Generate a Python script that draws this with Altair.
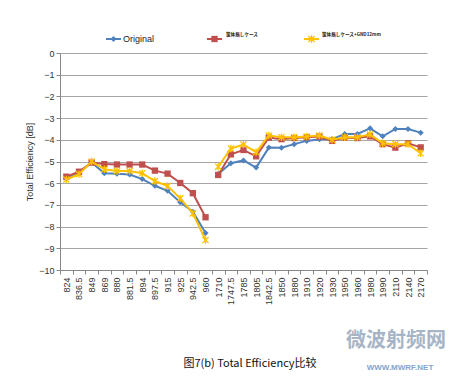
import altair as alt
import pandas as pd

categories = ["824", "836.5", "849", "869", "880", "881.5", "894", "897.5", "915", "925",
              "942.5", "960", "1710", "1747.5", "1785", "1805", "1842.5", "1850", "1880",
              "1910", "1920", "1930", "1950", "1960", "1980", "1990", "2110", "2140", "2170"]

series_names = ["Original", "筐体無しケース", "筐体無しケース+GND12mm"]

original = [-5.75, -5.5, -5.05, -5.54, -5.56, -5.6, -5.81, -6.12, -6.35, -6.88, -7.31, -8.3,
            -5.58, -5.08, -4.95, -5.28, -4.36, -4.37, -4.2, -4.05, -3.97, -3.97, -3.73, -3.73,
            -3.47, -3.84, -3.5, -3.5, -3.67]
case_a = [-5.7, -5.47, -5.05, -5.12, -5.14, -5.14, -5.14, -5.42, -5.56, -5.99, -6.46, -7.57,
          -5.62, -4.67, -4.47, -4.76, -3.9, -3.97, -3.92, -3.88, -3.85, -4.05, -3.9, -3.92,
          -3.84, -4.2, -4.36, -4.16, -4.35]
case_b = [-5.83, -5.58, -5.0, -5.36, -5.44, -5.44, -5.54, -5.9, -6.13, -6.7, -7.39, -8.62,
          -5.24, -4.4, -4.22, -4.57, -3.8, -3.88, -3.88, -3.85, -3.8, -4.0, -3.88, -3.88,
          -3.75, -4.16, -4.2, -4.2, -4.62]

# band (GSM 800/900 vs 1700-2100) – lines are drawn separately for each band
band_split = 12

colors = ["#4F81BD", "#C0504D", "#FFC000"]
shapes = ["diamond", "square", "M-1,-1L1,1M-1,1L1,-1M0,-1.2L0,1.2"]
filled = [True, True, False]
sizes = [36, 40, 38]

rows = []
for name, vals in zip(series_names, [original, case_a, case_b]):
    for i, (c, v) in enumerate(zip(categories, vals)):
        rows.append({"freq": c, "eff": v, "series": name,
                     "seg": "low" if i < band_split else "high", "order": i})
df = pd.DataFrame(rows)

W, H = 367, 217
FONT = "Liberation Sans"

xenc = alt.X("freq:N", sort=categories, bandPosition=0.5,
             scale=alt.Scale(type="band", paddingInner=0, paddingOuter=0),
             axis=alt.Axis(title=None, labelAngle=270, labelFontSize=9, labelColor="#333333",
                           labelFont=FONT, domainColor="#888888", tickColor="#888888",
                           tickSize=4, tickBand="extent", labelPadding=3, grid=False))
yenc = alt.Y("eff:Q", scale=alt.Scale(domain=[-10, 0], nice=False),
             axis=alt.Axis(title="Total Efficiency [dB]", values=list(range(-10, 1)),
                           format="d", labelFontSize=9, labelColor="#333333", labelFont=FONT,
                           titleFont=FONT, titleFontSize=9, titleFontWeight="normal",
                           titleColor="#333333", titlePadding=4, domainColor="#888888",
                           tickColor="#888888", tickSize=4, gridColor="#a6a6a6",
                           gridWidth=1))

base = alt.Chart(df)
layers = []
for k, name in enumerate(series_names):
    sub = base.transform_filter(alt.datum.series == name)
    layers.append(sub.mark_line(color=colors[k], strokeWidth=2).encode(
        x=xenc, y=yenc, detail="seg:N", order="order:Q"))
    layers.append(sub.mark_point(shape=shapes[k], filled=filled[k], size=sizes[k],
                                 color=colors[k], opacity=1,
                                 strokeWidth=1.3 if not filled[k] else 1).encode(x=xenc, y=yenc))

# legend (drawn manually, Excel style)
leg_line_x = [46, 147, 244]
leg_text_x = [63, 166, 262]
leg_text_y = [-14, -18, -18]
leg_font = [9, 4.6, 4.6]
for k, name in enumerate(series_names):
    ld = pd.DataFrame({"series": [name]})
    layers.append(alt.Chart(ld).mark_rule(color=colors[k], strokeWidth=2).encode(
        x=alt.value(leg_line_x[k]), x2=alt.value(leg_line_x[k] + 15), y=alt.value(-14)))
    layers.append(alt.Chart(ld).mark_point(shape=shapes[k], filled=filled[k], size=sizes[k],
                                           color=colors[k], opacity=1,
                                           strokeWidth=1.3 if not filled[k] else 1).encode(
        x=alt.value(leg_line_x[k] + 7.5), y=alt.value(-14)))
    layers.append(alt.Chart(ld).mark_text(align="left", baseline="middle", fontSize=leg_font[k],
                                          font="Noto Sans CJK JP" if k else FONT,
                                          fontWeight="bold" if k else "normal",
                                          color="#222222").encode(
        x=alt.value(leg_text_x[k]), y=alt.value(leg_text_y[k]), text="series:N"))

caption = pd.DataFrame({"t": ["图7(b) Total Efficiency比较"]})
layers.append(alt.Chart(caption).mark_text(fontSize=11, font="Noto Sans CJK SC",
                                           color="#111111", baseline="middle").encode(
    x=alt.value(190), y=alt.value(311), text="t:N"))

wm = pd.DataFrame({"t": ["微波射频网"], "u": ["WWW.MWRF.NET"]})
layers.append(alt.Chart(wm).mark_text(fontSize=20, font="Noto Sans CJK SC", fontWeight="bold",
                                      color="#8a9bb2", opacity=0.75, baseline="middle").encode(
    x=alt.value(336), y=alt.value(288), text="t:N"))
layers.append(alt.Chart(wm).mark_text(fontSize=8, font=FONT, fontWeight="bold",
                                      color="#5b86b8", opacity=0.75, baseline="middle").encode(
    x=alt.value(340), y=alt.value(315), text="u:N"))

chart = alt.layer(*layers).properties(
    width=W, height=H,
    autosize=alt.AutoSizeParams(type="none"),
    padding={"left": 52, "top": 45, "right": 22, "bottom": 110},
    background="white",
).configure_view(stroke=None)

chart.save("out.html", embed_options={"renderer": "svg", "actions": False})
